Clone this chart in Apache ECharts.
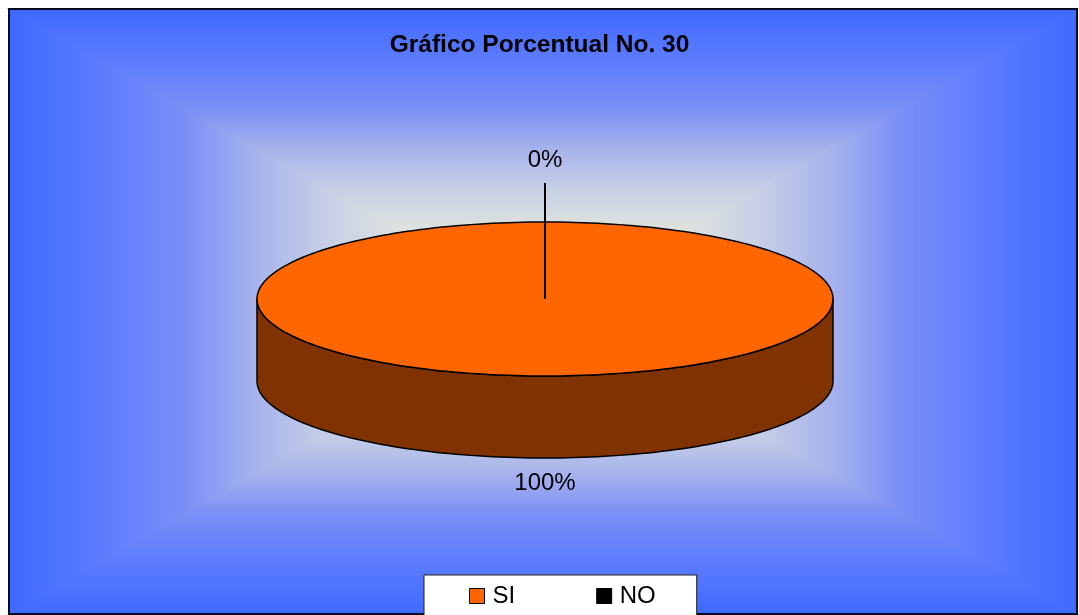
<!DOCTYPE html>
<html>
<head>
<meta charset="utf-8">
<script src="https://cdn.jsdelivr.net/npm/echarts@6/dist/echarts.min.js"></script>
<style>
html,body{margin:0;padding:0;background:#fff;}
#chart{width:1079px;height:615px;}
</style>
</head>
<body>
<div id="chart"></div>
<script>
// ---- data ----
const titleText = 'Gráfico Porcentual No. 30';
const categories = ['SI', 'NO'];
const values = [100, 0];

// ---- styles / layout (not data) ----
const topColors = ['#ff6600', '#000000'];
const sideColors = ['#803300', '#000000'];
const FONT = 'Arial, "Liberation Sans", sans-serif';
const CX = 545, CY = 299, RX = 288, RY = 77, DEPTH = 82;
const labelOffsets = [25, 62];   // distance of label from slice edge
const FRAME = {x1: 9, y1: 9, x2: 1077, y2: 614};
const GC = [543, 311]; // background gradient centre

const total = values.reduce((a, b) => a + b, 0);
const starts = [];
(function () {
  let cum = 0;
  values.forEach(v => { starts.push(90 - 360 * cum / total); cum += v; });
})();

function pt(deg, dy) {
  const r = deg * Math.PI / 180;
  return [CX + RX * Math.cos(r), CY - RY * Math.sin(r) + (dy || 0)];
}
function arc(a, b, dy) {
  const pts = [];
  const n = Math.max(2, Math.ceil(Math.abs(a - b) / 1.5));
  for (let i = 0; i <= n; i++) pts.push(pt(a + (b - a) * i / n, dy));
  return pts;
}

function renderSlice(idx, api) {
  const v = api.value(0);
  const a1 = starts[idx];
  const a2 = a1 - 360 * v / total;
  const children = [];
  if (v > 0) {
    for (let k = -1; k <= 1; k++) {
      const lo = Math.max(a2, -180 + 360 * k);
      const hi = Math.min(a1, 360 * k);
      if (hi > lo) {
        const pts = arc(hi, lo, 0).concat(arc(lo, hi, DEPTH));
        children.push({type: 'polygon', z2: 1, shape: {points: pts},
          style: {fill: sideColors[idx], stroke: '#000', lineWidth: 1.5}});
      }
    }
    let pts = arc(a1, a2, 0);
    if (Math.abs(a1 - a2) < 359.999) pts = [[CX, CY]].concat(pts);
    children.push({type: 'polygon', z2: 10, shape: {points: pts},
      style: {fill: topColors[idx], stroke: '#000', lineWidth: 1.5}});
  }
  const mid = (a1 + a2) / 2;
  const s = Math.sin(mid * Math.PI / 180);
  const c = Math.cos(mid * Math.PI / 180);
  const edge = pt(mid, s < 0 ? DEPTH : 0);
  const off = labelOffsets[idx];
  const lx = edge[0] + off * c;
  const ly = edge[1] - off * s;
  const pct = Math.round(v / total * 100) + '%';
  if (v === 0) {
    children.push({type: 'line', z2: 20,
      shape: {x1: CX, y1: CY, x2: lx, y2: ly + (s > 0 ? 23 : -23)},
      style: {stroke: '#000', lineWidth: 2}});
  }
  children.push({type: 'text', z2: 30, x: lx, y: ly,
    style: {text: pct, fill: '#000', font: '24px ' + FONT,
      align: 'center', verticalAlign: 'middle'}});
  return {type: 'group', children: children};
}

// background rectangular (path) gradient
const stops = [
  {offset: 0, color: '#3e6aff'},
  {offset: 0.17, color: '#5c7bff'},
  {offset: 0.33, color: '#7a8ff6'},
  {offset: 0.46, color: '#a6b2ec'},
  {offset: 0.6, color: '#c8d0e6'},
  {offset: 0.75, color: '#e2e6dc'},
  {offset: 1, color: '#eef0d8'}
];
function grad(x, y, x2, y2) {
  return {type: 'linear', x: x, y: y, x2: x2, y2: y2, colorStops: stops, global: false};
}
const F = FRAME;
function tri(points, g) {
  return {type: 'polygon', z: -10, silent: true, shape: {points: points},
    style: {fill: g, stroke: g, lineWidth: 1.2}};
}
const bg = [
  tri([[F.x1, F.y1], [F.x1, F.y2], GC], grad(0, 0, 1, 0)),
  tri([[F.x2, F.y1], [F.x2, F.y2], GC], grad(1, 0, 0, 0)),
  tri([[F.x1, F.y1], [F.x2, F.y1], GC], grad(0, 0, 0, 1)),
  tri([[F.x1, F.y2], [F.x2, F.y2], GC], grad(0, 1, 0, 0)),
  {type: 'rect', z: -9, silent: true, shape: {x: F.x1, y: F.y1, width: F.x2 - F.x1, height: F.y2 - F.y1},
    style: {fill: 'none', stroke: '#050a20', lineWidth: 2}}
];

const chart = echarts.init(document.getElementById('chart'), null, {renderer: 'canvas'});
chart.setOption({
  animation: false,
  backgroundColor: '#ffffff',
  title: {
    text: titleText, left: 'center', top: 28, padding: 5,
    textStyle: {fontFamily: FONT, fontSize: 24.5, fontWeight: 'bold', color: '#000'}
  },
  graphic: {elements: bg},
  legend: {
    left: 424, top: 575, orient: 'horizontal',
    padding: [9, 41, 30, 45], itemGap: 81,
    itemWidth: 15, itemHeight: 15, icon: 'rect',
    backgroundColor: '#ffffff', borderColor: '#222', borderWidth: 1, borderRadius: 0,
    textStyle: {fontFamily: FONT, fontSize: 24, color: '#000', padding: [0, 0, 0, 3]},
    data: categories.map((c, i) => ({name: c, itemStyle: {color: topColors[i], borderColor: '#000', borderWidth: 1}}))
  },
  series: categories.map((c, i) => ({
    type: 'custom', name: c, coordinateSystem: 'none',
    itemStyle: {color: topColors[i]},
    data: [[values[i]]],
    renderItem: (params, api) => renderSlice(i, api)
  }))
});
</script>
</body>
</html>
